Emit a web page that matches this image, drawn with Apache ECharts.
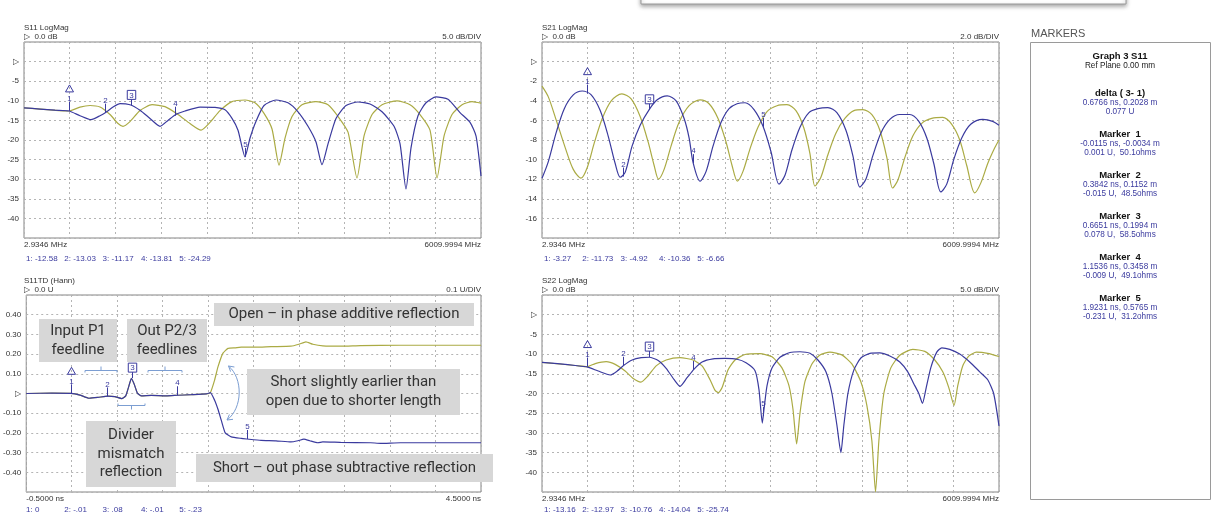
<!DOCTYPE html>
<html><head><meta charset="utf-8">
<script src="https://cdn.jsdelivr.net/npm/echarts@6/dist/echarts.min.js"></script>
<style>html,body{margin:0;padding:0;background:#fff}#c{width:1213px;height:514px}</style>
</head><body><div id="c"></div><script>
// ---------- data ----------
const FREQ_START = 2.9346, FREQ_STOP = 6009.9994;
const T_START = -0.5, T_STOP = 4.5;
const freqEndLabels = ['2.9346 MHz', '6009.9994 MHz'];
const timeEndLabels = ['-0.5000 ns', '4.5000 ns'];

const s11Blue = [[3,-11.8],[213,-12.1],[410,-12.4],[595,-12.6],[739,-13.8],[884,-14.8],[1002,-13.8],[1081,-12.9],[1173,-11.6],[1265,-10.7],[1396,-11.0],[1528,-12.4],[1659,-14.5],[1791,-16.5],[1896,-15.0],[1988,-13.6],[2119,-12.6],[2317,-11.6],[2514,-11.7],[2645,-12.3],[2737,-14.5],[2816,-17.5],[2908,-24.3],[2974,-19.5],[3053,-15.2],[3158,-11.2],[3316,-9.8],[3473,-10.5],[3605,-12.8],[3736,-16.5],[3841,-20.5],[3920,-26.3],[3999,-21],[4104,-14.5],[4236,-11.2],[4393,-10.3],[4551,-10.8],[4709,-12.8],[4867,-16.5],[4946,-21],[5024,-32.5],[5090,-22],[5182,-13.8],[5287,-10.5],[5419,-9.0],[5576,-9.6],[5734,-13],[5866,-15.5],[5945,-19],[6010,-29.2]];
const s11Olive = [[3,-11.8],[345,-12.3],[595,-12.6],[739,-11.6],[871,-11.2],[1002,-11.6],[1133,-13.5],[1239,-15.8],[1304,-16.5],[1396,-15.3],[1528,-12.5],[1686,-11.0],[1856,-11.5],[2027,-13.5],[2185,-15.8],[2330,-17.5],[2448,-15.5],[2579,-12.5],[2737,-10.2],[2908,-9.8],[3040,-10.5],[3158,-13.2],[3263,-17.2],[3355,-26.4],[3434,-19.5],[3526,-14],[3657,-11],[3841,-10.2],[3999,-11],[4131,-14],[4262,-18],[4380,-29.7],[4472,-19],[4578,-13.5],[4709,-11],[4906,-10.0],[5077,-11],[5208,-13.5],[5340,-17.5],[5432,-29.7],[5524,-19],[5629,-13.5],[5761,-11],[5892,-10.2],[6010,-10.6]];

const s21Blue = [[3,-11.9],[86,-10.2],[191,-7.2],[296,-4.8],[414,-3.4],[532,-3.0],[650,-3.4],[768,-5.0],[873,-7.6],[965,-10.4],[1031,-11.8],[1096,-11.3],[1188,-8.6],[1293,-6.5],[1412,-4.9],[1517,-3.9],[1648,-3.5],[1766,-4.0],[1871,-5.8],[1937,-7.8],[1989,-10.3],[2081,-12.2],[2160,-11.2],[2252,-8.6],[2357,-6.2],[2462,-4.8],[2567,-4.3],[2672,-4.2],[2790,-4.9],[2908,-6.6],[3013,-9.2],[3118,-12.5],[3197,-11.6],[3289,-9.0],[3394,-6.7],[3512,-5.2],[3630,-4.8],[3761,-4.7],[3879,-5.2],[3998,-7.0],[4089,-9.6],[4181,-12.8],[4260,-12.0],[4352,-9.6],[4457,-7.3],[4575,-5.9],[4706,-5.4],[4838,-5.4],[4956,-6.1],[5061,-7.8],[5153,-10.4],[5245,-13.3],[5323,-12.5],[5415,-10.0],[5520,-7.8],[5638,-6.4],[5796,-5.9],[5927,-6.1],[6010,-6.5]];
const s21Olive = [[3,-2.5],[86,-3.6],[191,-6.0],[309,-8.8],[414,-11.0],[515,-11.9],[598,-10.8],[690,-8.3],[795,-5.8],[913,-4.0],[1053,-3.3],[1175,-3.8],[1293,-5.6],[1398,-8.2],[1477,-10.6],[1534,-12.0],[1608,-11.0],[1700,-8.6],[1805,-6.2],[1937,-4.5],[2081,-3.9],[2199,-4.3],[2317,-5.8],[2422,-8.2],[2501,-10.6],[2571,-12.2],[2645,-11.2],[2737,-8.9],[2842,-6.7],[2961,-5.1],[3092,-4.5],[3223,-4.4],[3341,-5.0],[3446,-6.8],[3525,-9.4],[3591,-12.7],[3669,-11.8],[3761,-9.5],[3866,-7.3],[3984,-5.8],[4103,-5.0],[4221,-4.9],[4339,-5.4],[4444,-7.0],[4536,-9.8],[4611,-12.9],[4680,-12.1],[4772,-9.8],[4877,-7.6],[4995,-6.3],[5126,-5.8],[5271,-5.7],[5389,-6.4],[5494,-8.0],[5586,-10.6],[5691,-13.4],[5770,-12.4],[5862,-10.4],[5954,-8.8],[6010,-8.0]];

const s22Blue = [[3,-12.1],[243,-12.5],[440,-12.9],[602,-13.3],[742,-14.3],[900,-15.3],[991,-14.3],[1074,-12.9],[1188,-11.5],[1307,-10.9],[1412,-10.8],[1530,-11.6],[1635,-13.6],[1740,-16.5],[1818,-18.2],[1910,-16.0],[2002,-13.8],[2107,-12.0],[2252,-11.2],[2409,-11.1],[2567,-11.3],[2685,-12.2],[2803,-14.2],[2855,-19],[2899,-27.5],[2921,-24],[2961,-18],[3026,-13.5],[3131,-10.8],[3262,-9.6],[3394,-9.4],[3525,-9.8],[3630,-11.5],[3735,-14.5],[3814,-20],[3879,-28],[3932,-35],[3971,-28],[4024,-20],[4103,-14],[4194,-11],[4313,-9.8],[4444,-9.7],[4575,-10.5],[4706,-12],[4811,-14.5],[4890,-17.5],[4956,-20],[5004,-22.5],[5048,-19],[5113,-13.5],[5192,-9.5],[5258,-8.4],[5363,-8.8],[5494,-10],[5625,-12],[5757,-14.5],[5862,-16.5],[5940,-20],[6010,-28.2]];
const s22Olive = [[3,-12.1],[440,-12.9],[598,-13.2],[703,-12.4],[847,-11.9],[965,-12.6],[1096,-14.3],[1202,-16.2],[1303,-17.1],[1398,-15.5],[1503,-13],[1635,-11.5],[1818,-10.9],[1989,-11.5],[2107,-13],[2212,-16.5],[2278,-19.2],[2321,-19.8],[2370,-18.5],[2449,-14],[2540,-11.5],[2672,-10.1],[2869,-9.9],[3026,-10.7],[3157,-13.5],[3249,-18],[3302,-24],[3350,-32.8],[3394,-25],[3459,-17],[3551,-12.5],[3656,-10.2],[3788,-9.5],[3945,-10.2],[4076,-12.5],[4194,-17],[4273,-23],[4339,-32],[4387,-45],[4431,-32],[4496,-20],[4588,-13.5],[4706,-10.3],[4877,-8.8],[5035,-9.3],[5166,-11.5],[5271,-14.5],[5350,-18.5],[5419,-23],[5468,-18],[5533,-13],[5612,-10.5],[5713,-9.5],[5862,-9.8],[6010,-10.6]];

const tdCommon = [[-0.5,0],[-0.216,0.002],[-0.008,0.001],[0.091,-0.008],[0.189,-0.024],[0.288,-0.02],[0.397,-0.013],[0.474,-0.016],[0.55,-0.026],[0.594,-0.012],[0.627,0.035],[0.656,0.077],[0.689,0.045],[0.722,0.002],[0.766,-0.012],[0.875,-0.01],[1.039,-0.012],[1.163,-0.009],[1.316,-0.006],[1.48,-0.002],[1.524,0.004]];
const tdShortTail = [[1.571,-0.034],[1.608,-0.08],[1.644,-0.135],[1.688,-0.2],[1.754,-0.22],[1.864,-0.228],[1.926,-0.231],[2.082,-0.238],[2.246,-0.24],[2.41,-0.246],[2.487,-0.24],[2.553,-0.232],[2.618,-0.24],[2.706,-0.25],[2.761,-0.246],[2.957,-0.248],[3.286,-0.25],[3.395,-0.253],[3.614,-0.25],[4.051,-0.25],[4.5,-0.25]];
const tdOpenTail = [[1.571,0.068],[1.608,0.135],[1.663,0.205],[1.718,0.229],[1.80,0.232],[1.864,0.235],[2.028,0.235],[2.192,0.238],[2.41,0.24],[2.498,0.25],[2.575,0.262],[2.651,0.25],[2.761,0.242],[2.957,0.24],[3.176,0.243],[3.614,0.245],[4.051,0.245],[4.5,0.245]];

const markerTimes = [-0.0115, 0.3842, 0.6651, 1.1536, 1.9231];
const markerFreqs = [590, 1065, 1403, 1990, 2914];
const s11Markers = [-12.58, -13.03, -11.17, -13.81, -24.29];
const s21Markers = [-3.27, -11.73, -4.92, -10.36, -6.66];
const s22Markers = [-13.16, -12.97, -10.76, -14.04, -25.74];
const tdMarkers = [0.001, -0.015, 0.078, -0.009, -0.231];
const tdReadout = ['0', '-.01', '.08', '-.01', '-.23'];

const markerPanelLines = [
  ['Graph 3 S11', 'h', 56], ['Ref Plane 0.00 mm', 'k', 66],
  ['delta ( 3- 1)', 'h', 93], ['0.6766 ns, 0.2028 m', 'b', 103], ['0.077 U', 'b', 112],
  ['Marker  1', 'h', 134], ['-0.0115 ns, -0.0034 m', 'b', 144], ['0.001 U,  50.1ohms', 'b', 153],
  ['Marker  2', 'h', 175], ['0.3842 ns, 0.1152 m', 'b', 185], ['-0.015 U,  48.5ohms', 'b', 194],
  ['Marker  3', 'h', 216], ['0.6651 ns, 0.1994 m', 'b', 226], ['0.078 U,  58.5ohms', 'b', 235],
  ['Marker  4', 'h', 257], ['1.1536 ns, 0.3458 m', 'b', 267], ['-0.009 U,  49.1ohms', 'b', 276],
  ['Marker  5', 'h', 298], ['1.9231 ns, 0.5765 m', 'b', 308], ['-0.231 U,  31.2ohms', 'b', 317]
];

// ---------- style ----------
const BLUE = '#3a3a9e', OLIVE = '#abab44';
const SMALL = '"Liberation Sans", Arial, sans-serif';
const ANN = 'Roboto, "Open Sans", sans-serif';

const grids = [
  {left: 24, top: 42, width: 457, height: 196},
  {left: 542, top: 42, width: 457, height: 196},
  {left: 24, top: 295, width: 457, height: 197},
  {left: 542, top: 295, width: 457, height: 197}
];
const readoutY = [258.3, 258.3, 509.3, 509.3];
const panelY = [
  {min: -45, max: 5, interval: 5, dec: 0},
  {min: -18, max: 2, interval: 2, dec: 0},
  {min: -0.5, max: 0.5, interval: 0.1, dec: 2},
  {min: -45, max: 5, interval: 5, dec: 0}
];
const panelX = [
  {min: FREQ_START, max: FREQ_STOP, ends: freqEndLabels},
  {min: FREQ_START, max: FREQ_STOP, ends: freqEndLabels},
  {min: T_START, max: T_STOP, ends: timeEndLabels},
  {min: FREQ_START, max: FREQ_STOP, ends: freqEndLabels}
];
const dash = {color: '#b4b4b4', type: [2, 3], width: 1};

const xAxes = [], yAxes = [];
grids.forEach((g, i) => {
  const ends = panelX[i].ends;
  xAxes.push({ gridIndex: i, type: 'value', min: 0, max: 10, interval: 1,
    axisLine: {show: false}, axisTick: {show: false},
    splitLine: {show: true, lineStyle: dash},
    axisLabel: {show: true, margin: 3, fontSize: 8, color: '#333', fontFamily: SMALL,
      alignMinLabel: 'left', alignMaxLabel: 'right',
      formatter: v => v === 0 ? ends[0] : (v === 10 ? ends[1] : '')}
  });
  xAxes.push({ gridIndex: i, type: 'value', min: panelX[i].min, max: panelX[i].max, show: false,
    splitLine: {show: false} });
  const py = panelY[i];
  yAxes.push({ gridIndex: i, type: 'value', min: py.min, max: py.max, interval: py.interval,
    axisLine: {show: false}, axisTick: {show: false},
    splitLine: {show: true, lineStyle: dash},
    axisLabel: {margin: 5, fontSize: 8, color: '#333', fontFamily: SMALL,
      formatter: v => {
        if (Math.abs(v) < 1e-9) return '▷';
        if (Math.abs(v - py.min) < 1e-9 || Math.abs(v - py.max) < 1e-9) return '';
        return py.dec ? v.toFixed(py.dec) : String(v);
      }}
  });
});

function line(data, color, i, smooth) {
  return { type: 'line', data: data, xAxisIndex: i * 2 + 1, yAxisIndex: i, symbol: 'none',
    smooth: smooth, lineStyle: {color: color, width: 1.2}, silent: true, z: color === BLUE ? 3 : 2 };
}

function markerRender(params, api) {
  const pt = api.coord([api.value(0), api.value(1)]);
  const i = params.dataIndex;
  const x = Math.round(pt[0]) + 0.5, y = pt[1];
  const font = '8px ' + SMALL;
  const ch = [];
  if (i === 2) {
    ch.push({type: 'line', shape: {x1: x, y1: y, x2: x, y2: y - 6}, style: {stroke: BLUE, lineWidth: 1}});
    ch.push({type: 'text', style: {text: '3', x: x, y: y - 6, align: 'center', verticalAlign: 'bottom',
      fill: BLUE, font: font, borderColor: BLUE, borderWidth: 1, padding: [1, 2, 0, 2]}});
  } else {
    ch.push({type: 'line', shape: {x1: x, y1: y, x2: x, y2: y - 9}, style: {stroke: BLUE, lineWidth: 1}});
    ch.push({type: 'text', style: {text: String(i + 1), x: x, y: y - 8, align: 'center', verticalAlign: 'bottom',
      fill: BLUE, font: font}});
    if (i === 0) ch.push({type: 'polygon', shape: {points: [[x, y - 26], [x - 4, y - 19], [x + 4, y - 19]]},
      style: {fill: 'none', stroke: BLUE, lineWidth: 1}});
  }
  return {type: 'group', children: ch};
}
function markers(xs, ys, i) {
  return { type: 'custom', xAxisIndex: i * 2 + 1, yAxisIndex: i, clip: false, z: 5, silent: true,
    data: xs.map((x, k) => [x, ys[k]]), renderItem: markerRender };
}

const series = [
  line(s11Olive, OLIVE, 0, 0.2), line(s11Blue, BLUE, 0, 0.2), markers(markerFreqs, s11Markers, 0),
  line(s21Olive, OLIVE, 1, 0.3), line(s21Blue, BLUE, 1, 0.3), markers(markerFreqs, s21Markers, 1),
  line(tdCommon.concat(tdOpenTail), OLIVE, 2, 0.15), line(tdCommon.concat(tdShortTail), BLUE, 2, 0.15), markers(markerTimes, tdMarkers, 2),
  line(s22Olive, OLIVE, 3, 0.2), line(s22Blue, BLUE, 3, 0.2), markers(markerFreqs, s22Markers, 3)
];

// ---------- graphic (titles, readouts, annotations, marker panel) ----------
const G = [];
function txt(text, x, y, opt) {
  G.push({type: 'text', silent: true, z: 10,
    style: Object.assign({text: text, x: x, y: y, fill: '#333', font: '8px ' + SMALL, align: 'left', verticalAlign: 'middle'}, opt || {})});
}
const titles = [
  ['S11 LogMag', '▷  0.0 dB', '5.0 dB/DIV'],
  ['S21 LogMag', '▷  0.0 dB', '2.0 dB/DIV'],
  ['S11TD (Hann)', '▷  0.0 U', '0.1 U/DIV'],
  ['S22 LogMag', '▷  0.0 dB', '5.0 dB/DIV']
];
grids.forEach((g, i) => {
  txt(titles[i][0], g.left, g.top - 14);
  txt(titles[i][1], g.left, g.top - 5);
  txt(titles[i][2], g.left + g.width, g.top - 5, {align: 'right'});
});
const readouts = [
  s11Markers.map(String), s21Markers.map(String), tdReadout, s22Markers.map(String)
];
grids.forEach((g, i) => {
  readouts[i].forEach((r, k) => {
    txt((k + 1) + ': ' + r, g.left + 2 + k * 38.3, readoutY[i], {fill: '#3a3a9e'});
  });
});

// annotation boxes (time-domain panel)
function annBox(x, y, w, h, text, lh) {
  G.push({type: 'rect', silent: true, z: 20, shape: {x: x, y: y, width: w, height: h}, style: {fill: '#d7d7d7'}});
  G.push({type: 'text', silent: true, z: 21, style: {text: text, x: x + w / 2, y: y + h / 2, fill: '#333',
    font: '15px ' + ANN, align: 'center', verticalAlign: 'middle', lineHeight: lh || 19}});
}
annBox(39, 319, 78, 43, 'Input P1\nfeedline');
annBox(127, 319, 80, 43, 'Out P2/3\nfeedlines');
annBox(214, 303, 260, 23, 'Open – in phase additive reflection');
annBox(247, 369, 213, 46, 'Short slightly earlier than\nopen due to shorter length');
annBox(86, 421, 90, 66, 'Divider\nmismatch\nreflection', 18.5);
annBox(196, 454, 297, 28, 'Short – out phase subtractive reflection');

const AC = '#7c9ed2';
G.push({type: 'bezierCurve', silent: true, z: 22, shape: {x1: 228.5, y1: 366, cpx1: 243, cpy1: 378, cpx2: 243, cpy2: 408, x2: 227, y2: 420}, style: {stroke: AC, fill: 'none', lineWidth: 1}});
G.push({type: 'polyline', silent: true, z: 22, shape: {points: [[230.6, 371.6], [228.5, 366], [234.4, 367]]}, style: {stroke: AC, fill: 'none', lineWidth: 1}});
G.push({type: 'polyline', silent: true, z: 22, shape: {points: [[233, 419.3], [227, 420], [229.4, 414.5]]}, style: {stroke: AC, fill: 'none', lineWidth: 1}});
function bracket(x1, x2, y, dir) {
  const m = (x1 + x2) / 2;
  G.push({type: 'polyline', silent: true, z: 22, shape: {points: [[x1, y - 2 * dir], [x1, y], [x2, y], [x2, y - 2 * dir]]}, style: {stroke: AC, fill: 'none', lineWidth: 1}});
  G.push({type: 'line', silent: true, z: 22, shape: {x1: m, y1: y, x2: m, y2: y + 4 * dir}, style: {stroke: AC, lineWidth: 1}});
}
bracket(85, 117, 370.5, -1);
bracket(148, 182, 370.5, -1);
bracket(118, 145, 405.5, 1);

// marker panel
txt('MARKERS', 1031, 34, {font: '11px ' + SMALL, fill: '#555'});
G.push({type: 'rect', silent: true, shape: {x: 1030.5, y: 42.5, width: 180, height: 457}, style: {fill: '#fff', stroke: '#9a9a9a', lineWidth: 1}});
markerPanelLines.forEach(l => {
  const st = l[1] === 'h' ? {font: 'bold 9.5px ' + SMALL, fill: '#111'}
    : (l[1] === 'b' ? {font: '8.2px ' + SMALL, fill: '#3a3a9e'} : {font: '8.2px ' + SMALL, fill: '#222'});
  st.align = 'center';
  txt(l[0], 1120, l[2], st);
});
// top dialog edge
G.push({type: 'rect', silent: true, shape: {x: 641, y: -8, width: 485, height: 12}, style: {fill: '#fff', stroke: '#9a9a9a', lineWidth: 1, shadowBlur: 4, shadowOffsetY: 2, shadowColor: 'rgba(0,0,0,0.35)'}});

const chart = echarts.init(document.getElementById('c'), null, {renderer: 'canvas'});
chart.setOption({
  animation: false,
  backgroundColor: '#fff',
  grid: grids.map(g => Object.assign({show: true, borderColor: '#858585', borderWidth: 1, backgroundColor: 'transparent', containLabel: false}, g)),
  xAxis: xAxes,
  yAxis: yAxes,
  series: series,
  graphic: {elements: G}
});
</script></body></html>
